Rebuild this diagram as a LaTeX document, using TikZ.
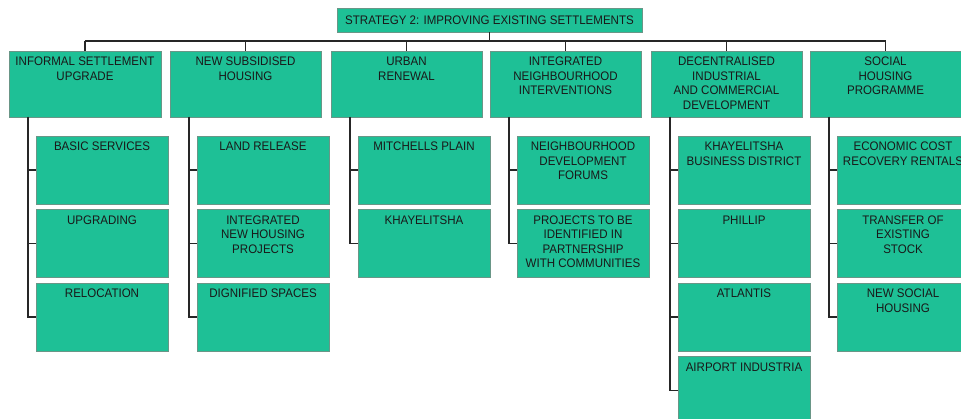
\documentclass[tikz,border=0pt]{standalone}
\usepackage{fontspec}
\setmainfont{Liberation Sans}[FakeStretch=0.93]
\definecolor{boxfill}{RGB}{30,192,150}
\definecolor{boxline}{RGB}{105,150,135}
\definecolor{txt}{RGB}{25,25,25}
\newcommand\bxt[3]{\parbox[c][#2][t]{#1}{\centering\rule{0pt}{14.7pt}#3\par}}
\begin{document}
\begin{tikzpicture}[x=1pt,y=-1pt,
  box/.style={draw=boxline, line width=0.6pt, fill=boxfill, inner sep=0pt, outer sep=0pt,
    anchor=north west, text=txt, font=\fontsize{12.4}{14.5}\selectfont},
  conn/.style={draw=black!85, line width=1.1pt}]
\useasboundingbox (0,0) rectangle (961,419);
\clip (0,0) rectangle (961,419);
% title
\node[box] (t) at (337,8) {\parbox[c][24pt][c]{305pt}{\centering STRATEGY 2: IMPROVING EXISTING SETTLEMENTS}};
% level 1
\node[box] (p1) at (9,51)   {\bxt{152pt}{66pt}{INFORMAL SETTLEMENT\\UPGRADE}};
\node[box] (p2) at (170,51) {\bxt{151pt}{66pt}{NEW SUBSIDISED\\HOUSING}};
\node[box] (p3) at (331,51) {\bxt{151pt}{66pt}{URBAN\\RENEWAL}};
\node[box] (p4) at (490,51) {\bxt{151pt}{66pt}{INTEGRATED\\NEIGHBOURHOOD\\INTERVENTIONS}};
\node[box] (p5) at (651,51) {\bxt{151pt}{66pt}{DECENTRALISED\\INDUSTRIAL\\AND COMMERCIAL\\DEVELOPMENT}};
\node[box] (p6) at (810,51) {\bxt{151pt}{66pt}{SOCIAL\\HOUSING\\PROGRAMME}};
% level 2
\node[box] (c11) at (36,136)   {\bxt{132pt}{68pt}{BASIC SERVICES}};
\node[box] (c12) at (36,209.5) {\bxt{132pt}{68pt}{UPGRADING}};
\node[box] (c13) at (36,283)   {\bxt{132pt}{68pt}{RELOCATION}};
\node[box] (c21) at (197,136)   {\bxt{132pt}{68pt}{LAND RELEASE}};
\node[box] (c22) at (197,209.5) {\bxt{132pt}{68pt}{INTEGRATED\\NEW HOUSING\\PROJECTS}};
\node[box] (c23) at (197,283)   {\bxt{132pt}{68pt}{DIGNIFIED SPACES}};
\node[box] (c31) at (358,136)   {\bxt{132pt}{68pt}{MITCHELLS PLAIN}};
\node[box] (c32) at (358,209.5) {\bxt{132pt}{68pt}{KHAYELITSHA}};
\node[box] (c41) at (517,136)   {\bxt{132pt}{68pt}{NEIGHBOURHOOD\\DEVELOPMENT\\FORUMS}};
\node[box] (c42) at (517,209.5) {\bxt{132pt}{68pt}{PROJECTS TO BE\\IDENTIFIED IN\\PARTNERSHIP\\WITH COMMUNITIES}};
\node[box] (c51) at (678,136)   {\bxt{132pt}{68pt}{KHAYELITSHA\\BUSINESS DISTRICT}};
\node[box] (c52) at (678,209.5) {\bxt{132pt}{68pt}{PHILLIP}};
\node[box] (c53) at (678,283)   {\bxt{132pt}{68pt}{ATLANTIS}};
\node[box] (c54) at (678,356.5) {\bxt{132pt}{68pt}{AIRPORT INDUSTRIA}};
\node[box] (c61) at (837,136)   {\bxt{132pt}{68pt}{ECONOMIC COST\\RECOVERY RENTALS}};
\node[box] (c62) at (837,209.5) {\bxt{132pt}{68pt}{TRANSFER OF\\EXISTING\\STOCK}};
\node[box] (c63) at (837,283)   {\bxt{132pt}{68pt}{NEW SOCIAL\\HOUSING}};
% top connectors
\coordinate (bus) at (489.5,41);
\draw[conn] (t.south) -- (t.south |- bus);
\draw[conn] (p1.north |- bus) -- (p6.north |- bus);
\foreach \p in {p1,p2,p3,p4,p5,p6}
  \draw[conn] (\p.north) -- (\p.north |- bus);
% child connectors
\foreach \p/\cs in {p1/{c11,c12,c13}, p2/{c21,c22,c23}, p3/{c31,c32}, p4/{c41,c42},
                    p5/{c51,c52,c53,c54}, p6/{c61,c62,c63}}
  \foreach \c in \cs
    \draw[conn] ([xshift=19pt]\p.south west) |- (\c.west);
\end{tikzpicture}
\end{document}
